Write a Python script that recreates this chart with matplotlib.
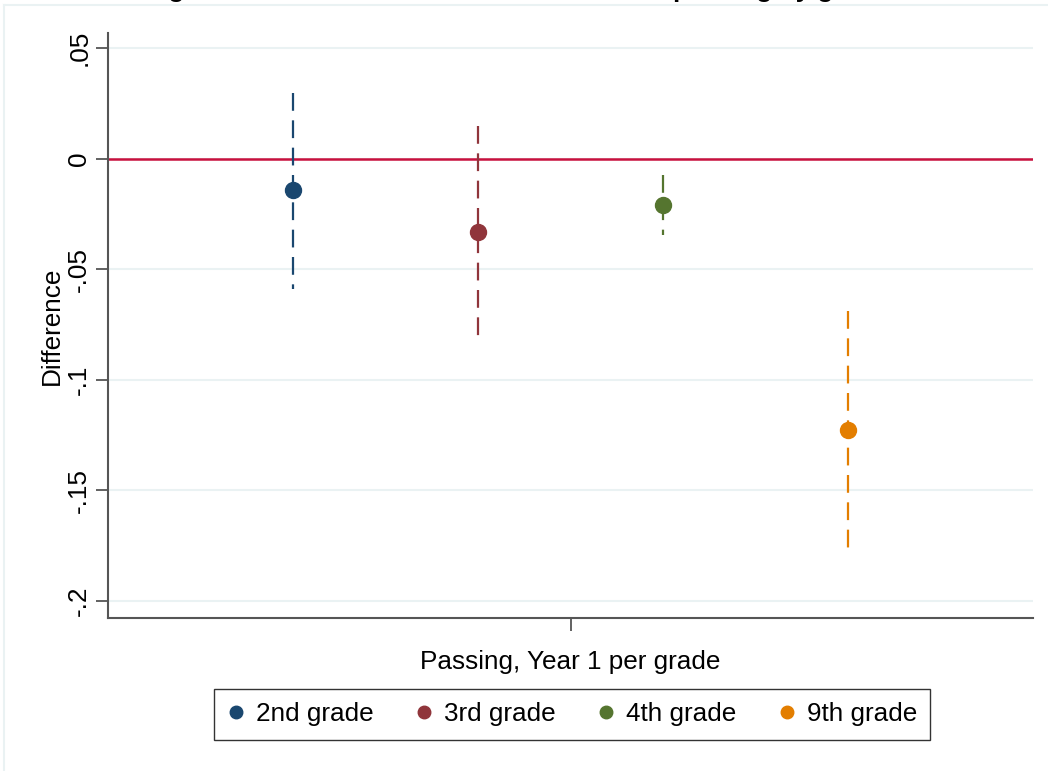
import matplotlib.pyplot as plt
from matplotlib.lines import Line2D

plt.rcParams['font.family'] = ['Liberation Sans', 'DejaVu Sans']

# estimates and 95% bounds per grade
grades = ['2nd grade', '3rd grade', '4th grade', '9th grade']
xpos = [1, 2, 3, 4]
estimate = [-0.0140, -0.0330, -0.0208, -0.1225]
ci_low = [-0.0588, -0.0809, -0.0344, -0.1763]
ci_high = [0.0298, 0.0149, -0.0072, -0.0687]
colors = ['#1a476f', '#90353b', '#55752f', '#e37e00']
yticks = [0.05, 0, -0.05, -0.1, -0.15, -0.2]
ytick_labels = ['.05', '0', '-.05', '-.1', '-.15', '-.2']

W, H = 1048, 771
fs = 18.8

fig = plt.figure(figsize=(W / 100, H / 100), dpi=100)
ax = fig.add_axes([108 / W, 1 - 618 / H, (1033 - 108) / W, (618 - 33) / H])

# faint outer frame of the graph region
fig.add_artist(Line2D([4 / W, 1], [1 - 5 / H, 1 - 5 / H], color='#eaf2f3', lw=1.5))
fig.add_artist(Line2D([4 / W, 4 / W], [0, 1 - 5 / H], color='#eaf2f3', lw=1.5))

# title sits above the canvas, only its descenders show
fig.text(145 / W, 1 + 3 / H,
         'Figure 2. Estimated difference in students passing by grade',
         fontsize=fs, fontweight='bold', ha='left', va='baseline')

for y in yticks:
    ax.axhline(y, color='#eaf2f3', lw=1.5, zorder=0)
ax.axhline(0, color='#c8103e', lw=1.8, zorder=1)

for x, m, lo, hi, c in zip(xpos, estimate, ci_low, ci_high, colors):
    ax.plot([x, x], [hi, lo], color=c, lw=1.6, linestyle=(0, (8, 4.3)), zorder=2)
    ax.plot(x, m, 'o', color=c, markersize=11.5, zorder=3)

ax.set_xlim(0, 5)
ax.set_ylim(-0.2077, 0.0568)
ax.set_xticks([2.5])
ax.set_xticklabels([''])
ax.set_yticks(yticks)
ax.set_yticklabels(ytick_labels, rotation=90, va='center', fontsize=fs)
ax.tick_params(axis='both', length=9, width=1.3, color='#555555', pad=3)

for s in ['top', 'right']:
    ax.spines[s].set_visible(False)
for s in ['left', 'bottom']:
    ax.spines[s].set_color('#555555')
    ax.spines[s].set_linewidth(1.5)

ax.set_ylabel('Difference', fontsize=fs, va='center')
ax.yaxis.set_label_coords((52 - 108) / 925, 0.5)
ax.set_xlabel('Passing, Year 1 per grade', fontsize=fs, va='center')
ax.xaxis.set_label_coords(0.5, (618 - 662) / 585)

handles = [Line2D([], [], marker='o', linestyle='', color=c, markersize=9, label=g)
           for g, c in zip(grades, colors)]
leg = fig.legend(handles=handles, ncol=4, loc='center',
                 bbox_to_anchor=(572 / W, 1 - 714.5 / H),
                 fontsize=fs, frameon=True, fancybox=False, edgecolor='black',
                 handletextpad=0.4, columnspacing=1.6, borderpad=0.5,
                 handlelength=0.7, borderaxespad=0)
leg.get_frame().set_linewidth(1.0)

fig.savefig('out.png', dpi=100)
